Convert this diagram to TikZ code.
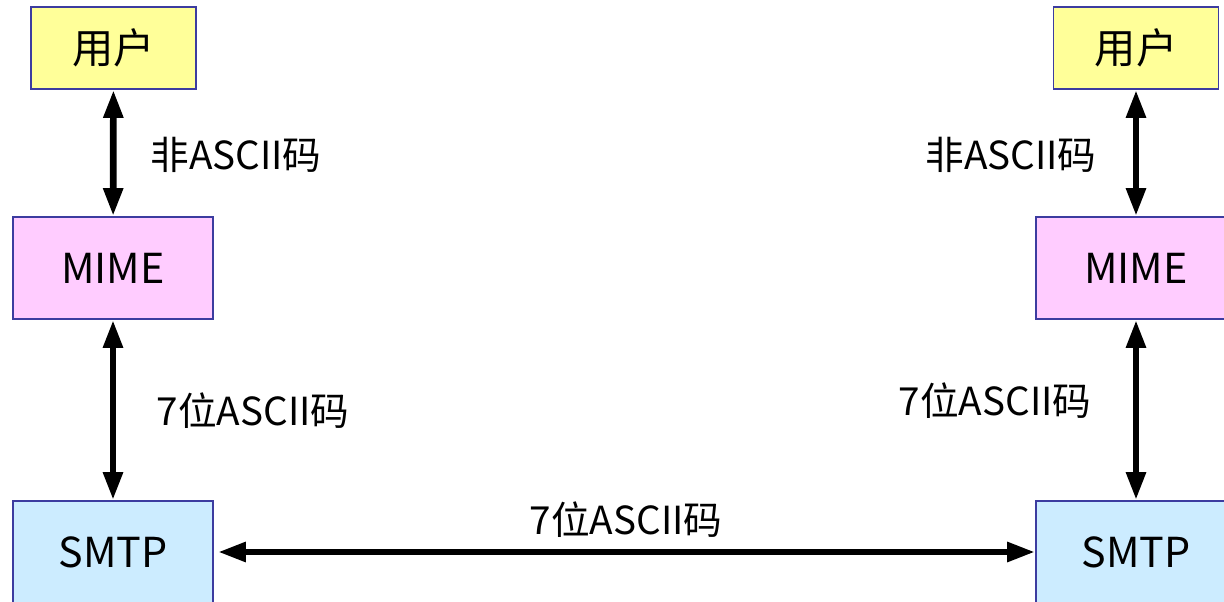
\documentclass[tikz,border=0pt]{standalone}
\usepackage{fontspec}
\setmainfont{Noto Sans CJK SC}
\usetikzlibrary{calc,arrows.meta}
\definecolor{useryellow}{RGB}{255,255,153}
\definecolor{mimepink}{RGB}{255,204,255}
\definecolor{smtpblue}{RGB}{204,236,255}
\definecolor{edgeblue}{RGB}{60,60,160}
\tikzset{
    lab/.style={
        font=\fontsize{22}{26}\selectfont
    }
}

\begin{document}
\begin{tikzpicture}[x=1cm,y=1cm, line cap=butt, line join=miter]

\tikzset{
  box/.style={draw=edgeblue, line width=0.9pt, font=\fontsize{23.5}{28}\selectfont, inner sep=0pt},
  userbox/.style={box, fill=useryellow, minimum width=3.3cm, minimum height=1.64cm},
  mimebox/.style={box, fill=mimepink, minimum width=4.0cm, minimum height=2.04cm},
  smtpbox/.style={box, fill=smtpblue, minimum width=4.0cm, minimum height=2.04cm},
  link/.style={{Triangle[length=5.6mm,width=3.7mm]}-{Triangle[length=5.6mm,width=3.7mm]}, line width=3.8pt}
}

\useasboundingbox (0,0) rectangle (24.48,12.04);

% left side
\node[userbox] (userL) at (2.27,11.08) {用户};
\node[mimebox] (mimeL) at (2.26,6.68) {MIME};
\node[smtpbox] (smtpL) at (2.26,1.0) {SMTP};

% right side
\node[userbox] (userR) at (22.72,11.08) {用户};
\node[mimebox] (mimeR) at (22.72,6.68) {MIME};
\node[smtpbox] (smtpR) at (22.72,1.0) {SMTP};

\draw[link] (userL) -- (mimeL);
\draw[link] (mimeL) -- (smtpL);
\draw[link] (userR) -- (mimeR);
\draw[link] (mimeR) -- (smtpR);
\draw[link] ([xshift=0.08cm]smtpL.east) -- (smtpR.west);

\node[lab] (codeL1) at (4.72,8.94) {非ASCII码};
\node[lab] (codeL2) at (5.06,3.82) {7位ASCII码};
\node[lab] (codeR1) at (20.22,8.94) {非ASCII码};
\node[lab] (codeR2) at (19.90,4.02) {7位ASCII码};
\node[lab] (codeM) at (12.52,1.64) {7位ASCII码};

\end{tikzpicture}
\end{document}
